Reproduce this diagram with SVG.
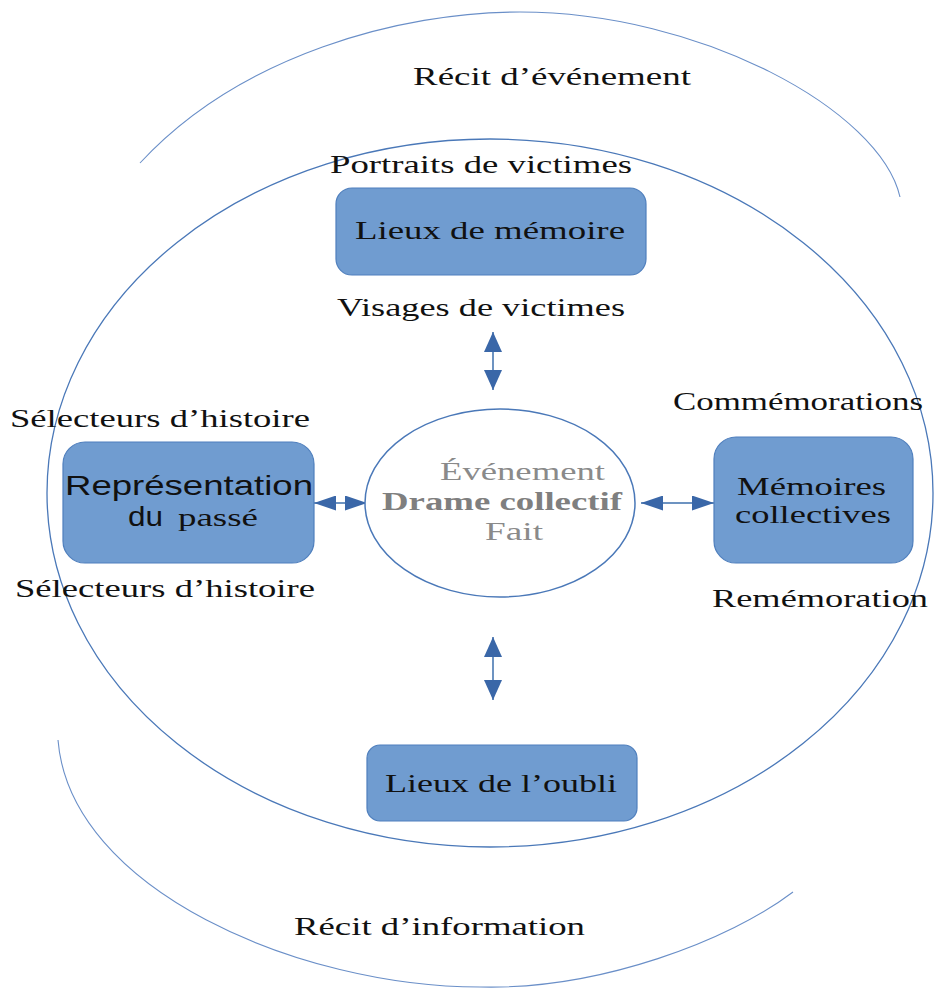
<svg xmlns="http://www.w3.org/2000/svg" width="937" height="989" viewBox="0 0 937 989">
<style>
.lbl{font-family:"Liberation Serif","Times New Roman",serif;font-size:26px;fill:#111}
.sans{font-family:"Liberation Sans",Arial,sans-serif;font-size:28px;fill:#111}
.gray{font-family:"Liberation Serif","Times New Roman",serif;font-size:26px;fill:#8a8a8a}
.bold{font-weight:bold;fill:#7f7f7f}
.box{fill:#709cd0;stroke:#4f7fbd;stroke-width:1.2}
.arc{fill:none;stroke:#6a8fc8;stroke-width:1.1}
.ring{fill:none;stroke:#4a78b8;stroke-width:1.3}
.conn{stroke:#3d6fad;stroke-width:1.5;fill:none}
</style>
<defs>
<marker id="mv" markerUnits="userSpaceOnUse" markerWidth="20" markerHeight="18" refX="20" refY="9" orient="auto-start-reverse">
<path d="M0,0 L20,9 L0,18 z" fill="#3a67a8"/>
</marker>
<marker id="mh" markerUnits="userSpaceOnUse" markerWidth="22" markerHeight="15" refX="22" refY="7.5" orient="auto-start-reverse">
<path d="M0,0 L22,7.5 L0,15 z" fill="#3a67a8"/>
</marker>
</defs>
<rect width="937" height="989" fill="#fff"/>

<g id="outer-arcs">
<path class="arc" d="M140,163 C240,55 400,12 520,12 C700,12 880,110 900,197"/>
<path class="arc" d="M58,740 C70,890 300,987 480,987 C600,990 730,940 793,892"/>
<text class="lbl" x="413" y="85" textLength="278" lengthAdjust="spacingAndGlyphs">Récit d’événement</text>
<text class="lbl" x="294" y="935" textLength="291" lengthAdjust="spacingAndGlyphs">Récit d’information</text>
</g>

<g id="main-ellipse">
<ellipse class="ring" cx="490" cy="493" rx="443" ry="354"/>
</g>

<g id="connectors">
<line class="conn" x1="493" y1="332" x2="493" y2="390" marker-start="url(#mv)" marker-end="url(#mv)"/>
<line class="conn" x1="493" y1="637" x2="493" y2="700" marker-start="url(#mv)" marker-end="url(#mv)"/>
<line class="conn" x1="314" y1="503" x2="367" y2="503" marker-start="url(#mh)" marker-end="url(#mh)"/>
<line class="conn" x1="641" y1="503" x2="714" y2="503" marker-start="url(#mh)" marker-end="url(#mh)"/>
</g>

<g id="lieux-memoire">
<rect class="box" x="336" y="188" width="310" height="87" rx="16"/>
<text class="lbl" x="355" y="239" textLength="270" lengthAdjust="spacingAndGlyphs">Lieux de mémoire</text>
<text class="lbl" x="330" y="173" textLength="302" lengthAdjust="spacingAndGlyphs">Portraits de victimes</text>
<text class="lbl" x="337" y="316" textLength="288" lengthAdjust="spacingAndGlyphs">Visages de victimes</text>
</g>

<g id="representation">
<rect class="box" x="63" y="442" width="251" height="121" rx="22"/>
<text class="sans" x="65" y="495" textLength="248" lengthAdjust="spacingAndGlyphs">Représentation</text>
<text class="sans" x="128" y="526" textLength="35" lengthAdjust="spacingAndGlyphs">du</text>
<text class="lbl" x="178" y="526" font-size="28" textLength="80" lengthAdjust="spacingAndGlyphs">passé</text>
<text class="lbl" x="10" y="427" textLength="300" lengthAdjust="spacingAndGlyphs">Sélecteurs d’histoire</text>
<text class="lbl" x="15" y="597" textLength="300" lengthAdjust="spacingAndGlyphs">Sélecteurs d’histoire</text>
</g>

<g id="evenement">
<ellipse cx="500" cy="503" rx="135" ry="94" fill="#fff" stroke="#4a78b8" stroke-width="1.5"/>
<text class="gray" x="440" y="480" textLength="165" lengthAdjust="spacingAndGlyphs">Événement</text>
<text class="gray bold" x="382" y="510" textLength="240" lengthAdjust="spacingAndGlyphs">Drame collectif</text>
<text class="gray" x="485" y="540" textLength="58" lengthAdjust="spacingAndGlyphs">Fait</text>
</g>

<g id="memoires">
<rect class="box" x="714" y="437" width="199" height="126" rx="22"/>
<text class="lbl" x="737" y="495" textLength="149" lengthAdjust="spacingAndGlyphs">Mémoires</text>
<text class="lbl" x="735" y="523" textLength="156" lengthAdjust="spacingAndGlyphs">collectives</text>
<text class="lbl" x="673" y="410" textLength="250" lengthAdjust="spacingAndGlyphs">Commémorations</text>
<text class="lbl" x="712" y="607" textLength="216" lengthAdjust="spacingAndGlyphs">Remémoration</text>
</g>

<g id="lieux-oubli">
<rect class="box" x="367" y="745" width="270" height="76" rx="13"/>
<text class="lbl" x="385" y="792" textLength="232" lengthAdjust="spacingAndGlyphs">Lieux de l’oubli</text>
</g>
</svg>
